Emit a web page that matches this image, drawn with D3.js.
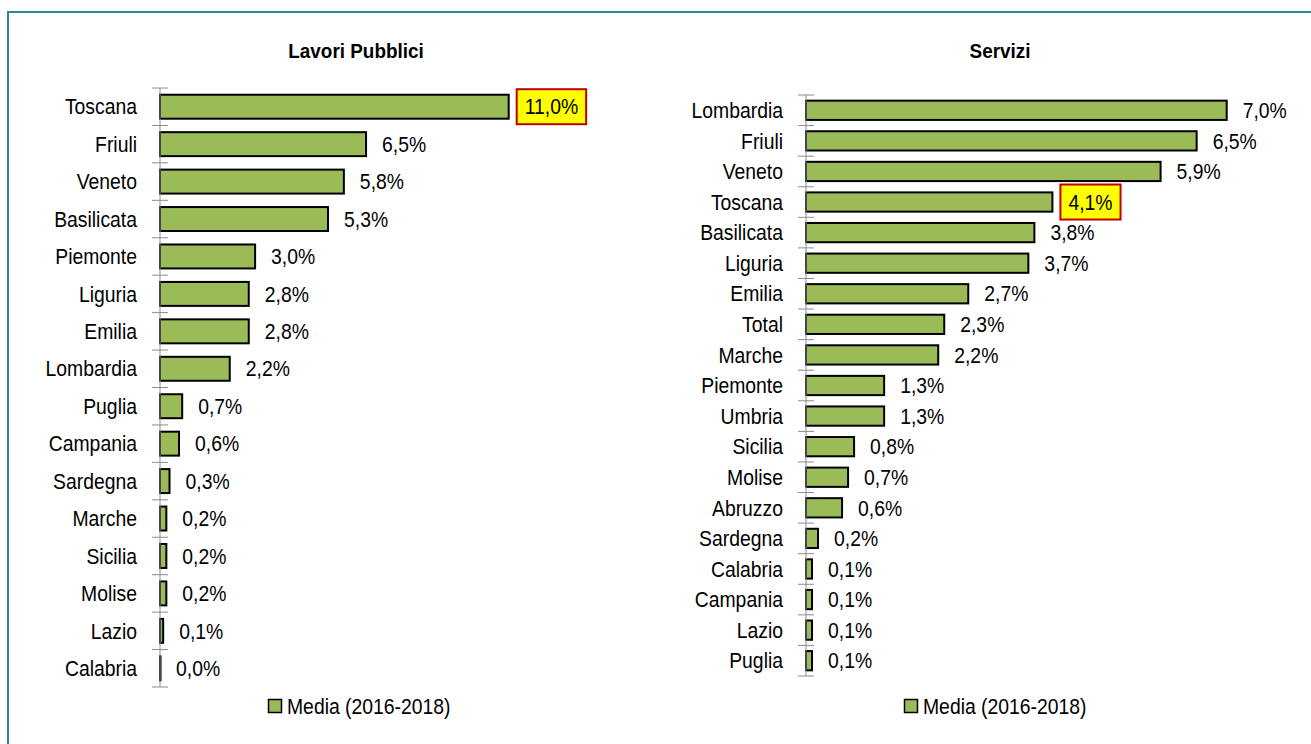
<!DOCTYPE html>
<html>
<head>
<meta charset="utf-8">
<script src="https://cdn.jsdelivr.net/npm/d3@7"></script>
<style>
  body { margin: 0; background: #fff; }
  svg { display: block; }
  text { font-family: "Liberation Sans", Arial, sans-serif; }
</style>
</head>
<body>
<svg id="chart" width="1311" height="744"></svg>
<script>
// Lavori Pubblici
const lavoriRegions = ['Toscana', 'Friuli', 'Veneto', 'Basilicata', 'Piemonte', 'Liguria', 'Emilia', 'Lombardia',
    'Puglia', 'Campania', 'Sardegna', 'Marche', 'Sicilia', 'Molise', 'Lazio', 'Calabria'];
const lavoriValues = [11.0, 6.5, 5.8, 5.3, 3.0, 2.8, 2.8, 2.2, 0.7, 0.6, 0.3, 0.2, 0.2, 0.2, 0.1, 0.0];

// Servizi
const serviziRegions = ['Lombardia', 'Friuli', 'Veneto', 'Toscana', 'Basilicata', 'Liguria', 'Emilia', 'Total',
    'Marche', 'Piemonte', 'Umbria', 'Sicilia', 'Molise', 'Abruzzo', 'Sardegna', 'Calabria', 'Campania', 'Lazio', 'Puglia'];
const serviziValues = [7.0, 6.5, 5.9, 4.1, 3.8, 3.7, 2.7, 2.3, 2.2, 1.3, 1.3, 0.8, 0.7, 0.6, 0.2, 0.1, 0.1, 0.1, 0.1];

const highlighted = 'Toscana';
const legendLabel = 'Media (2016-2018)';

// narrow look of the original font
const SX = 0.88;
const FS = '22px';

const svg = d3.select('#chart');

// Outer frame
svg.append('rect')
    .attr('x', 8).attr('y', 12)
    .attr('width', 1320).attr('height', 760)
    .attr('fill', 'none')
    .attr('stroke', '#31849b')
    .attr('stroke-width', 2);

const fmt = v => v.toFixed(1).replace('.', ',') + '%';

function renderPanel(opts) {
    const { title, titleX, regions, values, axisX, top, bottom, pxPerUnit, barPad, legendX } = opts;

    const data = regions.map((r, i) => ({ region: r, value: values[i] }));

    const y = d3.scaleBand()
        .domain(regions)
        .range([top, bottom])
        .paddingInner(barPad)
        .paddingOuter(barPad / 2);

    const x = d3.scaleLinear()
        .domain([0, 1])
        .range([axisX, axisX + pxPerUnit]);

    const g = svg.append('g');

    // Title
    g.append('text')
        .attr('transform', `translate(${titleX},58) scale(0.9,1)`)
        .attr('text-anchor', 'middle')
        .attr('font-size', '21px')
        .attr('font-weight', 'bold')
        .attr('fill', '#000')
        .text(title);

    // Bars
    g.selectAll('.bar')
        .data(data)
        .enter()
        .append('rect')
        .attr('class', 'bar')
        .attr('x', x(0))
        .attr('y', d => y(d.region))
        .attr('width', d => Math.max(0.5, x(d.value) - x(0)))
        .attr('height', y.bandwidth())
        .attr('fill', '#9bbb59')
        .attr('stroke', '#000')
        .attr('stroke-width', 2);

    // Axis line with cross ticks between categories
    const step = y.step();
    const tickYs = d3.range(regions.length + 1).map(i => top + i * step);
    g.append('line')
        .attr('x1', axisX).attr('x2', axisX)
        .attr('y1', top).attr('y2', bottom)
        .attr('stroke', '#8c8c8c')
        .attr('stroke-width', 1);
    g.selectAll('.tick')
        .data(tickYs)
        .enter()
        .append('line')
        .attr('x1', axisX - 8).attr('x2', axisX + 8)
        .attr('y1', d => d).attr('y2', d => d)
        .attr('stroke', '#8c8c8c')
        .attr('stroke-width', 1);

    // Category labels
    g.selectAll('.cat')
        .data(data)
        .enter()
        .append('text')
        .attr('transform', d => `translate(${axisX - 23},${y(d.region) + y.bandwidth() / 2}) scale(${SX},1)`)
        .attr('dy', '0.35em')
        .attr('text-anchor', 'end')
        .attr('font-size', FS)
        .attr('fill', '#000')
        .text(d => d.region);

    // Value labels
    const labels = g.selectAll('.val')
        .data(data)
        .enter()
        .append('g')
        .attr('transform', d => `translate(${x(d.value) + 16},${y(d.region) + y.bandwidth() / 2})`);

    const hl = labels.filter(d => d.region === highlighted);
    const box = hl.append('rect')
        .attr('x', -8)
        .attr('y', -17.5)
        .attr('height', 35)
        .attr('fill', '#ffff00')
        .attr('stroke', '#c00000')
        .attr('stroke-width', 2);

    const vt = labels.append('text')
        .attr('transform', `scale(${SX},1)`)
        .attr('dy', '0.35em')
        .attr('font-size', FS)
        .attr('fill', '#000')
        .text(d => fmt(d.value));

    box.attr('width', function (d) {
        const t = vt.filter(e => e === d).node();
        return t.getComputedTextLength() * SX + 16;
    });

    // Legend
    const leg = g.append('g').attr('transform', `translate(${legendX},706)`);
    leg.append('rect')
        .attr('x', 0.5).attr('y', -6.5)
        .attr('width', 13).attr('height', 13)
        .attr('fill', '#9bbb59')
        .attr('stroke', '#000')
        .attr('stroke-width', 1.5);
    leg.append('text')
        .attr('transform', `translate(19,0) scale(${SX},1)`)
        .attr('dy', '0.35em')
        .attr('font-size', FS)
        .attr('fill', '#000')
        .text(legendLabel);
}

renderPanel({
    title: 'Lavori Pubblici', titleX: 356,
    regions: lavoriRegions, values: lavoriValues,
    axisX: 160, top: 88, bottom: 687, pxPerUnit: 31.7, barPad: 0.36,
    legendX: 268
});

renderPanel({
    title: 'Servizi', titleX: 1000,
    regions: serviziRegions, values: serviziValues,
    axisX: 806, top: 95, bottom: 676, pxPerUnit: 60.1, barPad: 0.37,
    legendX: 904
});
</script>
</body>
</html>
